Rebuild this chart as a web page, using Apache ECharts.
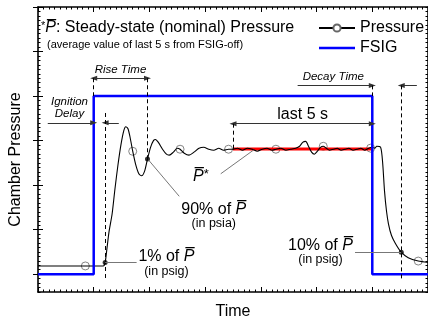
<!DOCTYPE html>
<html>
<head>
<meta charset="utf-8">
<script src="https://cdn.jsdelivr.net/npm/echarts@6/dist/echarts.min.js"></script>
<style>
  html, body { margin: 0; padding: 0; background: #fff; }
  #chart { width: 428px; height: 325px; }
</style>
</head>
<body>
<div id="chart"></div>
<script>
// pressure trace (time in s, pressure in arbitrary units)
const timeS = [0, 0.89, 1.70, 2.34, 2.41, 2.48, 2.55, 2.66, 2.76, 2.87, 2.98, 3.08, 3.15, 3.23,
  3.30, 3.40, 3.51, 3.62, 3.72, 3.83, 3.93, 4.04, 4.15, 4.22, 4.32, 4.47, 4.61, 4.71, 4.86, 5.00,
  5.10, 5.25, 5.42, 5.60, 5.78, 5.95, 6.13, 6.31, 6.49, 6.66, 6.84, 6.98, 7.16, 7.34, 7.51, 7.69,
  7.87, 8.05, 8.22, 8.40, 8.54, 8.72, 8.90, 9.07, 9.25, 9.39, 9.50, 9.61, 9.71, 9.82, 9.92, 10.03,
  10.14, 10.24, 10.35, 10.46, 10.60, 10.74, 10.88, 11.02, 11.16, 11.31, 11.45, 11.59, 11.73, 11.87,
  11.98, 12.09, 12.16, 12.30, 12.37, 12.44, 12.51, 12.58, 12.69, 12.83, 13.04, 13.29, 13.65, 14.04];
const pressure = [1.85, 1.85, 1.85, 1.85, 2.62, 6.03, 9.56, 13.52, 19.03, 24.53, 29.16, 32.24, 33.12, 32.68,
  30.92, 27.62, 24.53, 22.55, 22.11, 23.21, 25.85, 28.49, 30.04, 30.26, 29.60, 28.06, 26.95, 26.73, 27.40, 28.28,
  28.06, 27.17, 26.73, 27.40, 28.28, 28.49, 28.06, 27.84, 28.28, 27.84, 28.06, 28.06, 28.28, 27.84, 28.28, 28.06,
  27.62, 28.06, 28.28, 27.84, 28.06, 28.28, 27.84, 28.06, 28.28, 28.72, 29.60, 29.82, 28.72, 27.40, 26.95, 27.62,
  28.49, 28.72, 28.28, 27.84, 28.06, 28.28, 27.84, 28.06, 28.28, 27.84, 28.06, 28.28, 27.84, 28.28,
  28.49, 28.28, 28.72, 28.49, 25.19, 18.59, 14.18, 11.32, 8.68, 6.91, 4.93, 3.68, 2.95, 2.62];

// hollow circle markers on the trace
const markerTime = [1.70, 3.40, 5.10, 6.84, 8.54, 10.24, 11.94, 13.65];
const markerPressure = [1.85, 27.6, 28.06, 28.06, 28.06, 28.72, 28.3, 2.95];

// FSIG step signal
const fsigTime = [0, 2, 2, 12, 12, 14.2];
const fsigLevel = [0, 0, 40, 40, 0, 0];

// steady-state average over the last 5 s
const avgTime = [7, 12];
const avgLevel = [28.1, 28.1];

// 1 %, 90 % and 10 % points
const keyTime = [2.41, 3.93, 13.04];
const keyPressure = [2.62, 25.85, 4.93];

// axis ticks (no labels in the picture)
const xTicks = [0, 2, 4, 6, 8, 10, 12, 14];
const yTicks = [0, 10, 20, 30, 40, 50, 60];

const FONT = '"Liberation Sans", Arial, sans-serif';
const zip = (a, b) => a.map((v, i) => [v, b[i]]);

function xAxisCfg(pos, name) {
  return {
    type: 'value', position: pos, min: xTicks[0], max: xTicks[xTicks.length - 1],
    interval: xTicks[1] - xTicks[0],
    axisLine: { show: true, onZero: false, lineStyle: { color: '#000', width: 1.6 } },
    axisTick: { show: true, inside: true, length: 5, lineStyle: { color: '#000', width: 1 } },
    minorTick: { show: true, splitNumber: 10, length: 2.5, lineStyle: { color: '#000', width: 1 } },
    axisLabel: { show: false },
    splitLine: { show: false },
    name: name, nameLocation: 'middle', nameGap: 12,
    nameTextStyle: { fontSize: 16, fontFamily: FONT, color: '#000' }
  };
}

function yMinorCfg(pos, name) {
  return {
    type: 'value', position: pos, min: -4, max: 60, interval: 1,
    axisLine: { show: true, onZero: false, lineStyle: { color: '#000', width: 1.6 } },
    axisTick: { show: true, inside: true, length: 2.5, lineStyle: { color: '#000', width: 1 } },
    axisLabel: { show: false },
    splitLine: { show: false },
    name: name, nameLocation: 'middle', nameGap: 14,
    nameTextStyle: { fontSize: 16, fontFamily: FONT, color: '#000', padding: [0, 20, 0, 0] }
  };
}

function yMajorCfg(pos) {
  return {
    type: 'value', position: pos, min: -4, max: 60,
    axisLine: { show: false },
    axisTick: { show: true, inside: true, length: 5, customValues: yTicks, lineStyle: { color: '#000', width: 1 } },
    axisLabel: { show: false },
    splitLine: { show: false }
  };
}

// helper lines: arrows, dashed guides, leaders  [t1, v1, t2, v2, kind]
const guides = [
  [2, 44, 3.93, 44, 'both'],          // rise time
  [0.35, 34, 2, 34, 'end'],           // ignition delay, left part
  [2.9, 34, 2.41, 34, 'end'],         // ignition delay, right part
  [9.32, 42.4, 12, 42.4, 'end'],      // decay time, left part
  [13.6, 42.4, 13.04, 42.4, 'end'],   // decay time, right part
  [7, 33.8, 12, 33.8, 'both'],        // last 5 s
  [2, 44, 2, 40, 'dash'],
  [3.93, 44, 3.93, 25.85, 'dash'],
  [2.41, 36.2, 2.41, -1, 'dash'],
  [12, 42.4, 12, 40, 'dash'],
  [13.04, 42.4, 13.04, -1, 'dash'],
  [7, 33.8, 7, 28.1, 'dash'],
  [6.56, 22.55, 7.73, 27.84, 'lead'],
  [3.97, 25.63, 5.07, 17.49, 'lead'],
  [2.41, 2.62, 3.54, 2.62, 'lead'],
  [13.04, 4.93, 11.38, 4.93, 'lead']
];

const head = { symbol: 'triangle', symbolSize: [5, 7] };
const markLineData = guides.map(function (g) {
  const kind = g[4];
  let style;
  if (kind === 'dash') style = { color: '#000', width: 1, type: [4, 3] };
  else if (kind === 'lead') style = { color: '#777', width: 1, type: 'solid' };
  else style = { color: '#333', width: 1, type: 'solid' };
  const a = { coord: [g[0], g[1]], symbol: 'none', lineStyle: style };
  const b = { coord: [g[2], g[3]], symbol: 'none', lineStyle: style };
  if (kind === 'both') { Object.assign(a, head); Object.assign(b, head); }
  if (kind === 'end') Object.assign(b, head);
  return [a, b];
});

const rich = {
  a: { fontSize: 16, fontFamily: FONT, color: '#000' },
  p: { fontSize: 16, fontFamily: FONT, fontStyle: 'italic', color: '#000' },
  s: { fontSize: 11, fontFamily: FONT, color: '#000', verticalAlign: 'top' },
  t: { fontSize: 13, fontFamily: FONT, color: '#000', verticalAlign: 'top' },
  b: { fontSize: 12.5, fontFamily: FONT, color: '#000' },
  i: { fontSize: 11.5, fontFamily: FONT, fontStyle: 'italic', color: '#000' }
};

// texts anchored in data coordinates
const labels = [
  [2.96, 45.8, '{i|Rise Time}', 'center'],
  [1.13, 37.3, '{i|Ignition}\n{i|Delay}', 'center'],
  [10.6, 44.35, '{i|Decay Time}', 'center'],
  [9.5, 35.8, '{a|last 5 s}', 'center'],
  [5.85, 22.0, '{p|P\u0305}{t|*}', 'center'],
  [6.31, 13.1, '{a|90% of }{p|P\u0305}\n{b|(in psia)}', 'center'],
  [4.61, 2.5, '{a|1% of }{p|P\u0305}\n{b|(in psig)}', 'center'],
  [10.14, 5.04, '{a|10% of }{p|P\u0305}\n{b|(in psig)}', 'center']
];

const chart = echarts.init(document.getElementById('chart'));
chart.setOption({
  animation: false,
  backgroundColor: '#fff',
  grid: { left: 35, top: 7, right: -2, bottom: 27.7 },
  xAxis: [xAxisCfg('bottom', 'Time'), xAxisCfg('top', '')],
  yAxis: [yMinorCfg('left', 'Chamber Pressure'), yMajorCfg('left'), yMinorCfg('right', ''), yMajorCfg('right')],
  legend: {
    data: ['Pressure', { name: 'FSIG', icon: 'path://M0,0H36V2.5H0Z' }],
    orient: 'vertical', left: 318, top: 20, padding: 0,
    itemWidth: 36, itemHeight: 9, itemGap: 4,
    selectedMode: false,
    textStyle: { fontSize: 16, fontFamily: FONT, color: '#000' }
  },
  series: [
    {
      name: 'avg', type: 'line', data: zip(avgTime, avgLevel), symbol: 'none', silent: true,
      lineStyle: { color: '#ff0000', width: 3 }
    },
    {
      name: 'Pressure', type: 'line', data: zip(timeS, pressure), smooth: 0.25,
      symbol: 'emptyCircle', showSymbol: false, silent: true,
      lineStyle: { color: '#000', width: 1.1 }, itemStyle: { color: '#666' }
    },
    {
      name: 'Pressure', type: 'scatter', data: zip(markerTime, markerPressure), silent: true,
      symbol: 'circle', symbolSize: 8,
      itemStyle: { color: 'rgba(255,255,255,0)', borderColor: '#666', borderWidth: 1 }
    },
    {
      name: 'FSIG', type: 'line', data: zip(fsigTime, fsigLevel), symbol: 'none', silent: true,
      lineStyle: { color: '#0000ff', width: 2.5 }, itemStyle: { color: '#0000ff' }
    },
    {
      name: 'points', type: 'scatter', data: zip(keyTime, keyPressure), silent: true,
      symbol: 'circle', symbolSize: 5, itemStyle: { color: '#000' }
    },
    {
      name: 'guides', type: 'line', data: [], silent: true,
      markLine: { silent: true, animation: false, symbol: ['none', 'none'], label: { show: false }, data: markLineData }
    }
  ]
});

const graphics = labels.map(function (l) {
  const p = chart.convertToPixel({ xAxisIndex: 0, yAxisIndex: 0 }, [l[0], l[1]]);
  return {
    type: 'text', x: p[0], y: p[1], silent: true,
    style: { text: l[2], rich: rich, align: l[3], verticalAlign: 'middle' }
  };
});
graphics.push({
  type: 'text', x: 41, y: 28, silent: true,
  style: { text: '{s|*}{p|P\u0305}{a|: Steady-state (nominal) Pressure}', rich: rich, align: 'left', verticalAlign: 'middle' }
});
graphics.push({
  type: 'text', x: 47, y: 45, silent: true,
  style: { text: '(average value of last 5 s from FSIG-off)', fontSize: 11, fontFamily: FONT, fill: '#000', align: 'left', verticalAlign: 'middle' }
});
chart.setOption({ graphic: graphics });
</script>
</body>
</html>
